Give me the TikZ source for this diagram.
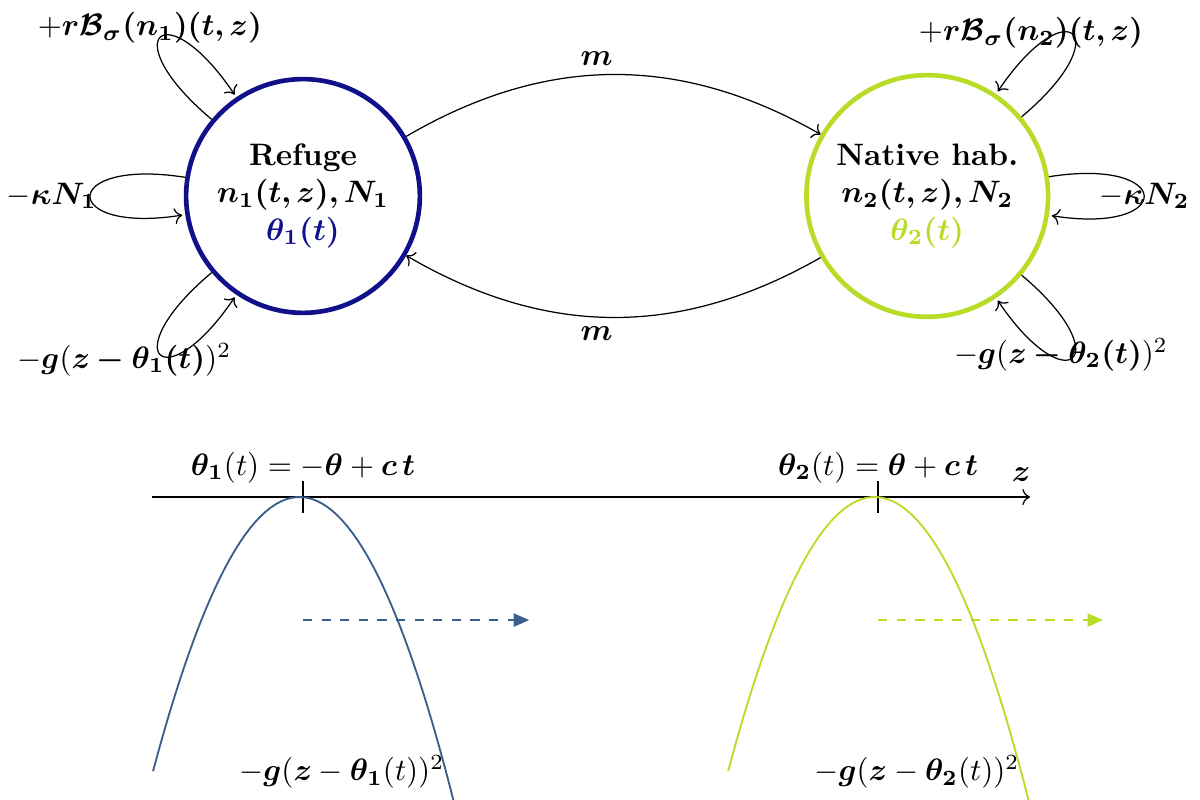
\documentclass[tikz,border=0pt]{standalone}
\usepackage{amsmath}
\usepackage{bm}
\usetikzlibrary{positioning,calc,arrows.meta}
\definecolor{refblue}{RGB}{16,16,138}
\definecolor{natgreen}{RGB}{184,220,40}
\definecolor{curveblue}{RGB}{58,95,140}
\tikzset{
hab/.style={circle,draw,line width=1.5pt,align=center,inner sep=0pt},
el/.style={inner sep=1mm},
lp/.style={loop,->,shorten >=1pt,looseness=8,min distance=1.45cm},
looptl/.style={lp,out=140,in=124},
loopl/.style={lp,out=171,in=189},
loopbl/.style={lp,out=220,in=236},
looptr/.style={lp,out=40,in=56},
loopr/.style={lp,out=9,in=-9},
loopbr/.style={lp,out=-40,in=-56},
fitness/.style={semithick,domain=-1.66:1.76,samples=60},
shift arrow/.style={semithick,dashed,-{Triangle[length=5pt,width=4.2pt]}},
}
\begin{document}
\begin{tikzpicture}
	\useasboundingbox (0,-9.07) rectangle (13.605,0);

	\node[hab,draw=refblue,minimum size=2.65cm] at (3.435,-2.222) (ref)
		{\textbf{Refuge}\\ $\bm{n_1(t,z), N_1}$\\ \textcolor{refblue}{$\bm{\theta_1(t)}$}};
	\node[hab,draw=natgreen,minimum size=2.74cm,right=4.33cm of ref] (nat)
		{\textbf{Native hab.}\\ $\bm{n_2(t,z), N_2}$\\ \textcolor{natgreen}{$\bm{\theta_2(t)}$}};

	\path
	(ref) edge[->,bend left=30] node[el,above,pos=0.46] {$\bm{m}$} (nat)
	(nat) edge[->,bend left=30] node[el,below,pos=0.54] {$\bm{m}$} (ref)
	(ref) edge[looptl] node[el,xshift=-0.12cm,yshift=0.11cm] {$+\bm{r\mathcal{B}_\sigma(n_1)(t,z)}$} (ref)
	(ref) edge[loopl] node[el,xshift=-0.44cm] {$-\bm{\kappa N_1}$} (ref)
	(ref) edge[loopbl] node[el,xshift=-0.41cm,yshift=-0.06cm] {$-\bm{g}(\bm{z-\theta_1(t)})^2$} (ref)
	(nat) edge[looptr] node[el,xshift=-0.47cm,yshift=0.02cm] {$+\bm{r\mathcal{B}_\sigma(n_2)(t,z)}$} (nat)
	(nat) edge[loopr] node[el,xshift=0.01cm] {$-\bm{\kappa N_2}$} (nat)
	(nat) edge[loopbr] node[el,xshift=-0.13cm,yshift=0.03cm] {$-\bm{g}(\bm{z-\theta_2(t)})^2$} (nat)
	;

	% trait axis
	\coordinate (zl) at (1.723,-5.635);
	\coordinate (zr) at (11.678,-5.635);
	\coordinate (v1) at (3.435,-5.635);
	\coordinate (v2) at (9.955,-5.635);
	\draw[->] (zl) -- (zr);
	\node at (11.576,-5.385) (zlab) {$\bm{z}$};
	\draw ($(v1)+(0,0.18)$) -- ($(v1)+(0,-0.18)$);
	\draw ($(v2)+(0,0.18)$) -- ($(v2)+(0,-0.18)$);
	\node[above=1pt of v1] (opt1) {$\bm{\theta_1}(t) = -\bm{\theta} + \bm{c}\,\bm{t}$};
	\node[above=1pt of v2] (opt2) {$\bm{\theta_2}(t) = \bm{\theta} + \bm{c}\,\bm{t}$};

	% fitness curves
	\draw[fitness,curveblue,shift={($(v1)+(-0.04,0)$)}] plot (\x,{-1.128*\x*\x});
	\draw[fitness,natgreen,shift={($(v2)+(-0.04,0)$)}] plot (\x,{-1.128*\x*\x});
	\node at ($(v1)+(0.44,-3.12)$) (sel1) {$-\bm{g}(\bm{z}-\bm{\theta_1}(t))^2$};
	\node at ($(v2)+(0.44,-3.12)$) (sel2) {$-\bm{g}(\bm{z}-\bm{\theta_2}(t))^2$};

	% climate shift
	\coordinate (s1) at (3.435,-7.03);
	\coordinate (e1) at (6.0,-7.03);
	\coordinate (s2) at (9.955,-7.03);
	\coordinate (e2) at (12.506,-7.03);
	\draw[shift arrow,curveblue] (s1) -- (e1);
	\draw[shift arrow,natgreen] (s2) -- (e2);
\end{tikzpicture}
\end{document}
